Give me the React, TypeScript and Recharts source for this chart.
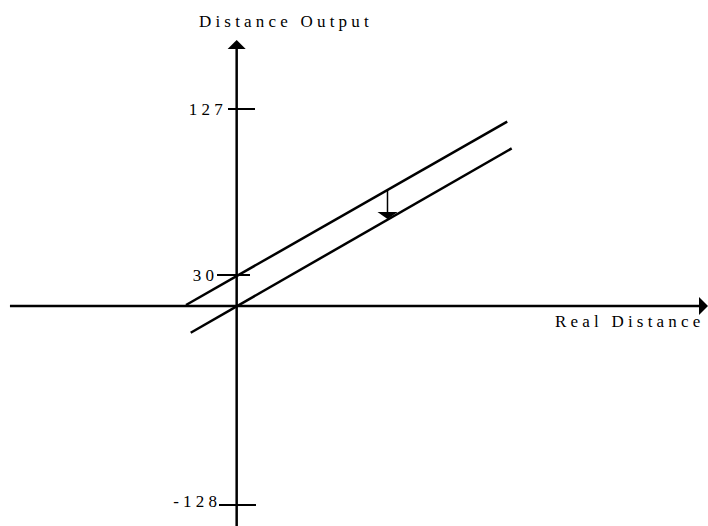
import React from "react"
import { LineChart, Line, XAxis, YAxis, ReferenceLine } from "recharts"

// ---- data ----
const yTicks = [127, 30, -128]
const yTickLabels = ["127", "30", "-128"]

// shifted output line (offset 30) and real distance line
const offsetLine = [
  { x: -10.75, y: 1 },
  { x: 57.4, y: 119.6 },
]
const realLine = [
  { x: -9.75, y: -17.2 },
  { x: 58.35, y: 104 },
]
// arrow showing the shift between the two lines
const shiftArrow = [
  { x: 32, y: 79.7 },
  { x: 32, y: 66.5 },
]

const xAxisTitle = "Real Distance"
const yAxisTitle = "Distance Output"

// ---- layout ----
const W = 708
const H = 526
const X_DOMAIN: [number, number] = [-50, 100]
const Y_DOMAIN: [number, number] = [-141.5, 190.7]
const X_AXIS_SPAN: [number, number] = [-48.1, 98.1]
const Y_AXIS_TOP = 162.1

// the drawing is schematic: ticks are not evenly spaced, so the y scale is piecewise
const Y_WARP_VALUES = [-128, 0, 30, 127]
const Y_WARP_POS = [-199, 0, 31, 197]

const TICK_SPAN: Record<number, [number, number]> = {
  127: [-1.84, 3.89],
  30: [-4.17, 2.83],
  [-128]: [-3.75, 4.1],
}
const TICK_LABEL_GAP: Record<number, number> = { 127: 5.3, 30: 3, [-128]: 2 }
const TICK_LABEL_DY: Record<number, number> = { 127: 6, 30: 6, [-128]: 2 }

const FONT = "'Liberation Serif', 'Times New Roman', serif"
const FONT_SIZE = 17
const LS = 4.2
const INK = "#000"

function makeWarpScale(): any {
  let dom: number[] = [0, 1]
  let rng: number[] = [0, 1]
  const warp = (v: number) => {
    let i = 0
    while (i < Y_WARP_VALUES.length - 2 && v > Y_WARP_VALUES[i + 1]) i++
    const t = (v - Y_WARP_VALUES[i]) / (Y_WARP_VALUES[i + 1] - Y_WARP_VALUES[i])
    return Y_WARP_POS[i] + t * (Y_WARP_POS[i + 1] - Y_WARP_POS[i])
  }
  const scale: any = (v: number) => {
    const a = warp(Number(dom[0]))
    const b = warp(Number(dom[dom.length - 1]))
    const t = (warp(Number(v)) - a) / (b - a)
    return rng[0] + t * (rng[rng.length - 1] - rng[0])
  }
  scale.domain = (d?: number[]) => {
    if (d === undefined) return dom.slice()
    dom = d.slice()
    return scale
  }
  scale.range = (r?: number[]) => {
    if (r === undefined) return rng.slice()
    rng = r.slice()
    return scale
  }
  scale.copy = () => makeWarpScale().domain(dom).range(rng)
  scale.ticks = () => Y_WARP_VALUES.slice()
  return scale
}

const textStyle = {
  fontFamily: FONT,
  fontSize: FONT_SIZE,
  letterSpacing: LS,
  fill: INK,
}

function tickLabel(value: number, text: string) {
  return (props: any) => {
    const vb = props.viewBox || {}
    return (
      <text
        x={vb.x - TICK_LABEL_GAP[value] + LS}
        y={vb.y + TICK_LABEL_DY[value]}
        textAnchor="end"
        style={textStyle}
      >
        {text}
      </text>
    )
  }
}

const yTitleLabel = (props: any) => {
  const vb = props.viewBox || {}
  return (
    <text x={vb.x - 37.7} y={vb.y - 22} style={textStyle}>
      {yAxisTitle}
    </text>
  )
}

const xTitleLabel = (props: any) => {
  const vb = props.viewBox || {}
  return (
    <text x={vb.x + vb.width - 144} y={vb.y + 21} style={textStyle}>
      {xAxisTitle}
    </text>
  )
}

export default function App() {
  const yScale = React.useMemo(() => makeWarpScale(), [])

  return (
    <div style={{ position: "absolute", left: 0, top: 0, background: "#fff" }}>
      <LineChart width={W} height={H} margin={{ top: 0, right: 0, bottom: 0, left: 1 }}>
        <defs>
          <marker
            id="axisHead"
            viewBox="0 0 10 20"
            markerUnits="userSpaceOnUse"
            markerWidth={10}
            markerHeight={20}
            refX={0.5}
            refY={10}
            orient="auto"
          >
            <path d="M0,0.5 L9.5,10 L0,19.5 Z" fill={INK} />
          </marker>
          <marker
            id="shiftHead"
            viewBox="0 0 8 20"
            markerUnits="userSpaceOnUse"
            markerWidth={8}
            markerHeight={20}
            refX={0.5}
            refY={10}
            orient="auto"
          >
            <path d="M0,0 L7,10 L0,20 Z" fill={INK} />
          </marker>
        </defs>

        <XAxis type="number" dataKey="x" domain={X_DOMAIN} allowDataOverflow hide />
        <YAxis type="number" dataKey="y" domain={Y_DOMAIN} scale={yScale} allowDataOverflow hide />

        {/* axes */}
        <ReferenceLine
          segment={[
            { x: X_AXIS_SPAN[0], y: 0 },
            { x: X_AXIS_SPAN[1], y: 0 },
          ]}
          stroke={INK}
          strokeWidth={2.5}
          markerEnd="url(#axisHead)"
          ifOverflow="visible"
          label={xTitleLabel}
        />
        <ReferenceLine
          segment={[
            { x: 0, y: Y_DOMAIN[0] },
            { x: 0, y: Y_AXIS_TOP },
          ]}
          stroke={INK}
          strokeWidth={2.5}
          markerEnd="url(#axisHead)"
          ifOverflow="visible"
          label={yTitleLabel}
        />

        {/* y ticks */}
        {yTicks.map((t, i) => (
          <ReferenceLine
            key={t}
            segment={[
              { x: TICK_SPAN[t][0], y: t },
              { x: TICK_SPAN[t][1], y: t },
            ]}
            stroke={INK}
            strokeWidth={2}
            ifOverflow="visible"
            label={tickLabel(t, yTickLabels[i])}
          />
        ))}

        <Line
          data={offsetLine}
          dataKey="y"
          type="linear"
          stroke={INK}
          strokeWidth={2.5}
          dot={false}
          activeDot={false}
          isAnimationActive={false}
        />
        <Line
          data={realLine}
          dataKey="y"
          type="linear"
          stroke={INK}
          strokeWidth={2.5}
          dot={false}
          activeDot={false}
          isAnimationActive={false}
        />

        <ReferenceLine
          segment={shiftArrow}
          stroke={INK}
          strokeWidth={1.5}
          markerEnd="url(#shiftHead)"
          ifOverflow="visible"
        />
      </LineChart>
    </div>
  )
}
